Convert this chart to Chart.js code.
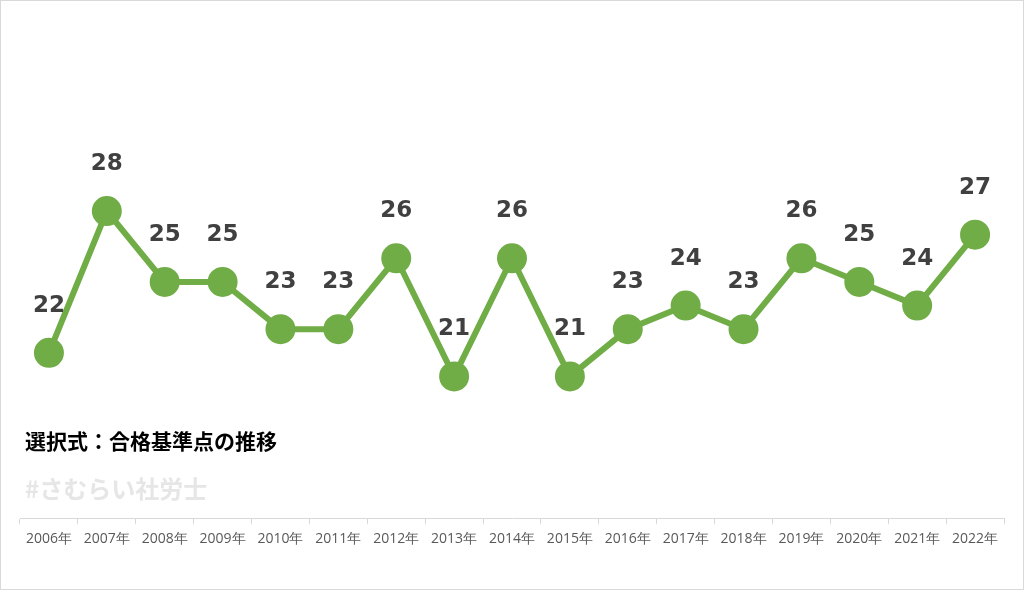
<!DOCTYPE html>
<html><head><meta charset="utf-8">
<script src="https://cdn.jsdelivr.net/npm/chart.js@4/dist/chart.umd.min.js"></script>
<style>
html,body{margin:0;padding:0;background:#fff}
#wrap{position:relative;width:1022px;height:588px;border:1px solid #d9d9d9}
</style></head><body>
<div id="wrap"><canvas id="c"></canvas></div>
<script>
const categories=["2006年","2007年","2008年","2009年","2010年","2011年","2012年","2013年","2014年","2015年","2016年","2017年","2018年","2019年","2020年","2021年","2022年"];
const values=[22,28,25,25,23,23,26,21,26,21,23,24,23,26,25,24,27];
const title="選択式：合格基準点の推移";
const watermark="#さむらい社労士";
const F="'Noto Sans CJK JP','Noto Sans',sans-serif";
const labelsPlugin={id:'lbl',afterDatasetsDraw(chart){
  const ctx=chart.ctx;const meta=chart.getDatasetMeta(0);
  ctx.save();ctx.fillStyle='#404040';ctx.font='bold 23px Verdana,"DejaVu Sans",sans-serif';
  ctx.textAlign='center';ctx.textBaseline='middle';
  meta.data.forEach((p,i)=>ctx.fillText(values[i],p.x,p.y-47));
  ctx.textAlign='left';ctx.fillStyle='#000';ctx.font='bold 21px '+F;
  ctx.fillText(title,24,440);
  ctx.fillStyle='#e6e6e6';ctx.font='bold 24px '+F;
  ctx.fillText(watermark,24,488);
  ctx.restore();}};
new Chart(document.getElementById('c'),{type:'line',
data:{labels:categories,datasets:[{data:values,borderColor:'#70AD47',backgroundColor:'#70AD47',borderWidth:6,pointRadius:12,pointHoverRadius:12,tension:0}]},
options:{responsive:true,maintainAspectRatio:false,animation:false,
layout:{padding:{left:19,right:19,top:21,bottom:36}},
plugins:{legend:{display:false},tooltip:{enabled:false}},
scales:{y:{display:false,min:15,max:36},
x:{offset:true,grid:{offset:true,drawOnChartArea:false,tickLength:6,color:'#d9d9d9'},border:{color:'#d9d9d9'},
ticks:{color:'#595959',font:{size:14,family:"'Open Sans',sans-serif"},maxRotation:0,padding:6}}}},
plugins:[labelsPlugin]});
</script></body></html>
